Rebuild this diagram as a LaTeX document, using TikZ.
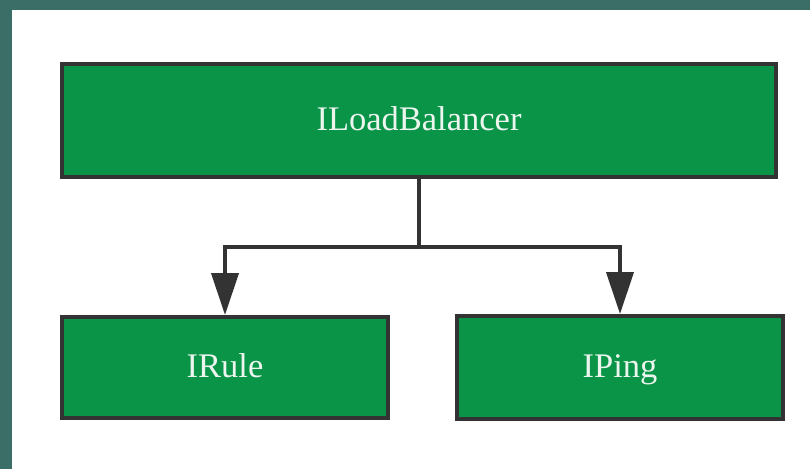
\documentclass[tikz,border=0pt]{standalone}
\usepackage{fontspec}
\setmainfont{Liberation Serif}
\usetikzlibrary{arrows.meta}
\definecolor{frameteal}{RGB}{58,110,102}
\definecolor{boxgreen}{RGB}{9,148,72}
\definecolor{edgegray}{RGB}{51,51,51}
\definecolor{labelwhite}{RGB}{236,246,239}
\tikzset{
  classbox/.style={draw=edgegray, line width=4pt, fill=boxgreen,
    text=labelwhite, font=\fontsize{34.5}{38}\selectfont, inner sep=0pt,
    text height=26pt, text depth=7pt},
  link/.style={draw=edgegray, line width=4pt,
    -{Triangle[length=42pt,width=27pt]}}
}
\begin{document}
\begin{tikzpicture}[x=1pt,y=-1pt]
  % canvas: teal frame on the left and top, white panel
  \fill[frameteal] (0,0) rectangle (810,469);
  \fill[white] (12,10) rectangle (810,469);
  \useasboundingbox (0,0) rectangle (810,469);

  \node[classbox, minimum width=714pt, minimum height=113pt] (lb) at (419,120.5) {ILoadBalancer};
  \node[classbox, minimum width=326pt, minimum height=101pt] (rule) at (225,367.5) {IRule};
  \node[classbox, minimum width=326pt, minimum height=103pt] (ping) at (620,367.5) {IPing};

  \coordinate (split) at (lb.south |- 0,247);
  \draw[edgegray, line width=4pt] (lb.south) -- (split);
  \draw[link] (split) -| (rule.north);
  \draw[link] (split) -| (ping.north);
\end{tikzpicture}
\end{document}
